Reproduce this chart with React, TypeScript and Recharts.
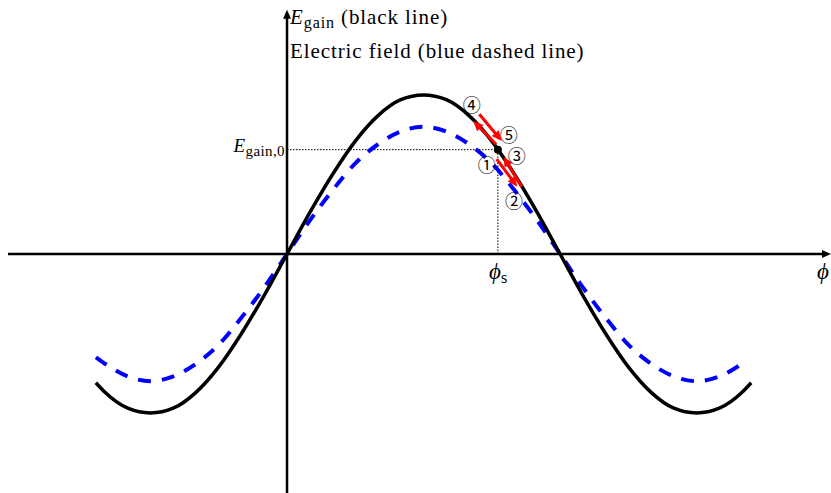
import React from 'react';
import { ComposedChart, Line, XAxis, YAxis, ReferenceLine, ReferenceDot } from 'recharts';

// phase samples (degrees) and the two curves read at those phases
const phiDeg = [-126, -120, -105, -90, -75, -60, -45, -30, -15, 0, 15, 30, 45, 60, 75, 90, 105, 120, 135, 150, 165, 180, 195, 210, 225, 240, 255, 270, 285, 300, 306];
const eGain = [-0.81, -0.87, -0.97, -1.0, -0.97, -0.87, -0.71, -0.5, -0.26, 0, 0.26, 0.5, 0.71, 0.87, 0.97, 1.0, 0.97, 0.87, 0.71, 0.5, 0.26, 0, -0.26, -0.5, -0.71, -0.87, -0.97, -1.0, -0.97, -0.87, -0.81];
const eField = [-0.65, -0.69, -0.77, -0.8, -0.77, -0.69, -0.57, -0.4, -0.21, 0, 0.21, 0.4, 0.57, 0.69, 0.77, 0.8, 0.77, 0.69, 0.57, 0.4, 0.21, 0, -0.21, -0.4, -0.57, -0.69, -0.77, -0.8, -0.77, -0.69, null];

// synchronous phase and its gain
const phiS = 139;
const eGain0 = 0.656;

// red arrows along the curve: [x1, y1, x2 (tip), y2 (tip)]
const arrows: [number, number, number, number][] = [
  [137.8, 0.69, 122.8, 0.836],
  [126.8, 0.879, 141.5, 0.711],
  [138.2, 0.597, 151.8, 0.423],
  [154.7, 0.423, 142.6, 0.612],
];
const stepLabels = ['①', '②', '③', '④', '⑤'];
const stepPos: [number, number][] = [
  [131.6, 0.566],
  [149.6, 0.34],
  [151.4, 0.623],
  [121.8, 0.942],
  [146.2, 0.755],
];

const rows = phiDeg.map((phi, i) => ({ phi, gain: eGain[i], field: eField[i] }));

const W = 831;
const H = 493;
const X_DOMAIN: [number, number] = [-189.2, 358.6];
const Y_DOMAIN: [number, number] = [-1.503, 1.597];

const arrowShape = (color: string, width: number, len: number, half: number) => (p: any) => {
  const { x1, y1, x2, y2 } = p;
  const dx = x2 - x1;
  const dy = y2 - y1;
  const d = Math.hypot(dx, dy) || 1;
  const ux = dx / d;
  const uy = dy / d;
  const bx = x2 - ux * len;
  const by = y2 - uy * len;
  const pts = `${x2},${y2} ${bx - uy * half},${by + ux * half} ${bx + uy * half},${by - ux * half}`;
  return (
    <g>
      <line x1={x1} y1={y1} x2={bx + ux} y2={by + uy} stroke={color} strokeWidth={width} />
      <polygon points={pts} fill={color} />
    </g>
  );
};

const textShape = (txt: string, size: number, family: string) => (p: any) => (
  <text x={p.cx} y={p.cy} textAnchor="middle" dominantBaseline="central" fontSize={size} fontFamily={family} fill="#000">
    {txt}
  </text>
);

const serif = '"Liberation Serif", "DejaVu Serif", serif';

export default function App() {
  return (
    <div style={{ position: 'absolute', left: 0, top: 0, width: W, height: H, background: '#fff', fontFamily: serif }}>
      <ComposedChart width={W} height={H} data={rows} margin={{ top: 0, right: 0, bottom: 0, left: 0 }}>
        <XAxis type="number" dataKey="phi" domain={X_DOMAIN} hide allowDataOverflow />
        <YAxis type="number" domain={Y_DOMAIN} hide allowDataOverflow />

        {/* axes with arrowheads */}
        <ReferenceLine
          segment={[{ x: -183.9, y: 0 }, { x: 358.6, y: 0 }]}
          ifOverflow="visible"
          shape={arrowShape('#000', 2.5, 9, 4)}
        />
        <ReferenceLine
          segment={[{ x: 0, y: -1.503 }, { x: 0, y: 1.535 }]}
          ifOverflow="visible"
          shape={arrowShape('#000', 2.5, 9, 4)}
        />

        {/* operating point guides */}
        <ReferenceLine
          segment={[{ x: 0, y: eGain0 }, { x: phiS, y: eGain0 }]}
          stroke="#000"
          strokeWidth={1}
          strokeDasharray="1.5 1.5"
        />
        <ReferenceLine
          segment={[{ x: phiS, y: 0 }, { x: phiS, y: eGain0 }]}
          stroke="#000"
          strokeWidth={1}
          strokeDasharray="1.5 1.5"
        />

        <Line
          type="monotone"
          dataKey="field"
          stroke="#0000ff"
          strokeWidth={4}
          strokeDasharray="13 11"
          dot={false}
          activeDot={false}
          isAnimationActive={false}
        />
        <Line
          type="monotone"
          dataKey="gain"
          stroke="#000"
          strokeWidth={3.5}
          dot={false}
          activeDot={false}
          isAnimationActive={false}
        />

        {arrows.map(([x1, y1, x2, y2], i) => (
          <ReferenceLine
            key={`a${i}`}
            segment={[{ x: x1, y: y1 }, { x: x2, y: y2 }]}
            shape={arrowShape('#ff0000', 3, 10, 4.5)}
          />
        ))}

        <ReferenceDot x={phiS} y={eGain0} r={4} fill="#000" stroke="none" />

        {stepPos.map(([x, y], i) => (
          <ReferenceDot
            key={`s${i}`}
            x={x}
            y={y}
            shape={textShape(stepLabels[i], 18, '"Noto Sans CJK JP", "DejaVu Sans", sans-serif')}
          />
        ))}
      </ComposedChart>

      {/* title */}
      <div style={{ position: 'absolute', left: 290, top: 3, fontSize: 21, lineHeight: '28px', letterSpacing: 0.9, whiteSpace: 'nowrap' }}>
        <div>
          <i>E</i>
          <sub style={{ fontSize: 16, verticalAlign: '-4px' }}>gain</sub> (black line)
        </div>
        <div>Electric field (blue dashed line)</div>
      </div>

      {/* gain level label */}
      <div style={{ position: 'absolute', right: W - 285, top: 135, fontSize: 19, letterSpacing: 0.4, whiteSpace: 'nowrap' }}>
        <i>E</i>
        <sub style={{ fontSize: 15, verticalAlign: '-4px' }}>gain,0</sub>
      </div>

      {/* phase labels */}
      <div style={{ position: 'absolute', left: 489, top: 259, fontSize: 23, whiteSpace: 'nowrap' }}>
        <i>ϕ</i>
        <sub style={{ fontSize: 16, verticalAlign: '-4px' }}>s</sub>
      </div>
      <div style={{ position: 'absolute', left: 817, top: 259, fontSize: 23, whiteSpace: 'nowrap' }}>
        <i>ϕ</i>
      </div>
    </div>
  );
}
